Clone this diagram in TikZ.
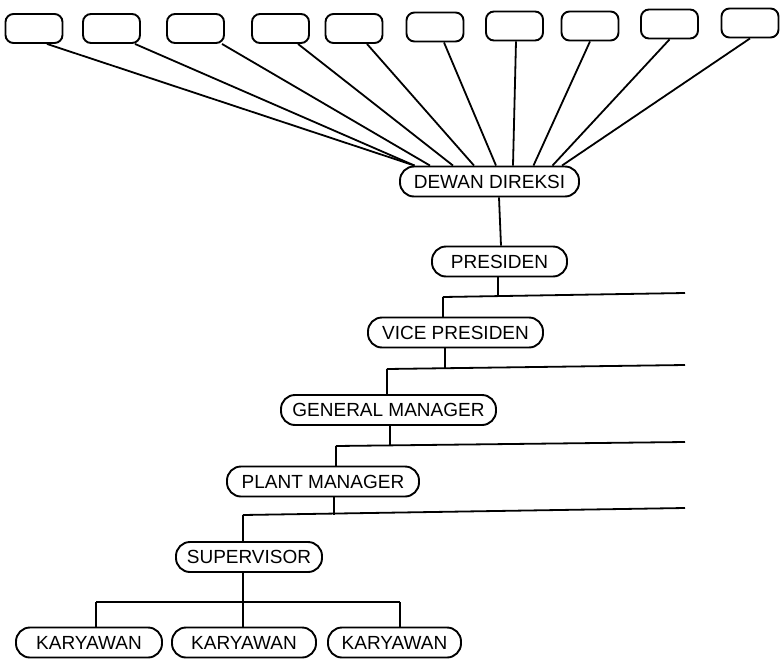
\documentclass[tikz,border=0pt]{standalone}
\usepackage{fontspec}
\setmainfont{Liberation Sans}
\begin{document}
\begin{tikzpicture}[x=1pt,y=-1pt,
  topbox/.style={draw, line width=1.9pt, rounded corners=8pt, minimum width=57pt, minimum height=29pt, inner sep=0pt},
  role/.style={draw, line width=1.9pt, rounded corners=14pt, minimum height=30pt, inner sep=0pt, font=\fontsize{19}{22}\selectfont},
  conn/.style={line width=1.8pt}]
\useasboundingbox (0,0) rectangle (780,659);
% top boxes
\node[topbox] (b1) at (34,28.5) {};
\node[topbox] (b2) at (111.5,28.5) {};
\node[topbox] (b3) at (195.5,28.5) {};
\node[topbox] (b4) at (280.5,28.5) {};
\node[topbox] (b5) at (354,28.5) {};
\node[topbox] (b6) at (435,27) {};
\node[topbox] (b7) at (514.5,26) {};
\node[topbox] (b8) at (590,26) {};
\node[topbox] (b9) at (669.5,24) {};
\node[topbox] (b10) at (750,23) {};
% role boxes
\node[role, minimum width=179pt] (dewan) at (489.5,181.5) {DEWAN DIREKSI};
\node[role, minimum width=135pt] (pres) at (499.5,261.5) {PRESIDEN};
\node[role, minimum width=175pt] (vp) at (455.5,332.5) {VICE PRESIDEN};
\node[role, minimum width=215pt] (gm) at (388.5,410) {GENERAL MANAGER};
\node[role, minimum width=192pt] (pm) at (323,481.5) {PLANT MANAGER};
\node[role, minimum width=146pt] (sup) at (249,557) {SUPERVISOR};
\node[role, minimum width=146pt] (k1) at (89,642.5) {KARYAWAN};
\node[role, minimum width=144pt] (k2) at (244,642.5) {KARYAWAN};
\node[role, minimum width=133pt] (k3) at (394.5,642.5) {KARYAWAN};
% bus coordinates
\coordinate (h1l) at (443,297); \coordinate (h1r) at (685,293);
\coordinate (h2l) at (387,369); \coordinate (h2r) at (685,365);
\coordinate (h3l) at (336,446); \coordinate (h3r) at (685,442);
\coordinate (h4l) at (243,515); \coordinate (h4r) at (685,508);
\coordinate (h5l) at (96,602); \coordinate (h5r) at (400,602);
% top connectors
\draw[conn] ([xshift=13pt]b1.south) -- ([xshift=-75pt]dewan.north);
\draw[conn] ([xshift=23.5pt]b2.south) -- ([xshift=-75pt]dewan.north);
\draw[conn] ([xshift=26.5pt]b3.south) -- ([xshift=-59.5pt]dewan.north);
\draw[conn] ([xshift=17.5pt]b4.south) -- ([xshift=-36.5pt]dewan.north);
\draw[conn] ([xshift=13pt]b5.south) -- ([xshift=-15.5pt]dewan.north);
\draw[conn] ([xshift=9pt]b6.south) -- ([xshift=6.5pt]dewan.north);
\draw[conn] ([xshift=1.5pt]b7.south) -- ([xshift=23.5pt]dewan.north);
\draw[conn] (b8.south) -- ([xshift=44pt]dewan.north);
\draw[conn] (b9.south) -- ([xshift=63pt]dewan.north);
\draw[conn] (b10.south) -- ([xshift=72.5pt]dewan.north);
% hierarchy
\draw[conn] ([xshift=9.5pt]dewan.south) -- ([xshift=1.5pt]pres.north);
\draw[conn] ([xshift=-1.5pt]pres.south) -- ++(0,19.5);
\draw[conn] (h1l) -- (h1r);
\draw[conn] (h1l) -- ([xshift=-12.5pt]vp.north);
\draw[conn] ([xshift=-10.5pt]vp.south) -- ++(0,20.5);
\draw[conn] (h2l) -- (h2r);
\draw[conn] (h2l) -- ([xshift=-1.5pt]gm.north);
\draw[conn] ([xshift=1.5pt]gm.south) -- ++(0,20.5);
\draw[conn] (h3l) -- (h3r);
\draw[conn] (h3l) -- ([xshift=13pt]pm.north);
\draw[conn] ([xshift=11pt]pm.south) -- ++(0,17.8);
\draw[conn] (h4l) -- (h4r);
\draw[conn] (h4l) -- ([xshift=-6pt]sup.north);
\draw[conn] ([xshift=-6pt]sup.south) -- ([xshift=-1pt]k2.north);
\draw[conn] (h5l) -- (h5r);
\draw[conn] (h5l) -- ([xshift=7pt]k1.north);
\draw[conn] (h5r) -- ([xshift=5.5pt]k3.north);
\end{tikzpicture}
\end{document}
